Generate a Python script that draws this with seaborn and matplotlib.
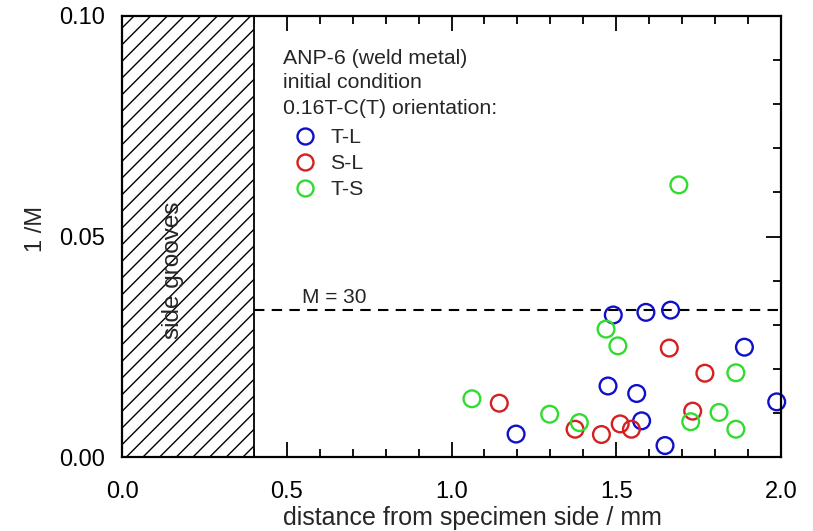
import numpy as np
import pandas as pd
import matplotlib
matplotlib.use("Agg")
import matplotlib.pyplot as plt
import seaborn as sns
from matplotlib.lines import Line2D

# ---- data ----
tl_x = [1.491, 1.590, 1.665, 1.889, 1.475, 1.562, 1.987, 1.577, 1.196, 1.648]
tl_y = [0.0322, 0.0328, 0.0333, 0.0249, 0.0161, 0.0144, 0.0125, 0.0082, 0.0052, 0.0026]
sl_x = [1.661, 1.769, 1.145, 1.732, 1.512, 1.375, 1.546, 1.455]
sl_y = [0.0247, 0.0190, 0.0122, 0.0104, 0.0075, 0.0063, 0.0063, 0.0051]
ts_x = [1.690, 1.469, 1.505, 1.863, 1.062, 1.298, 1.812, 1.388, 1.726, 1.863]
ts_y = [0.0617, 0.0290, 0.0252, 0.0191, 0.0132, 0.0097, 0.0101, 0.0078, 0.0080, 0.0063]
orientations = ["T-L", "S-L", "T-S"]
colors = {"T-L": "#1010c8", "S-L": "#d42020", "T-S": "#30dc30"}
M_limit = 30
groove_depth = 0.4
header = ["ANP-6 (weld metal)", "initial condition", "0.16T-C(T) orientation:"]

df = pd.concat([
    pd.DataFrame({"x": tl_x, "y": tl_y, "orientation": "T-L"}),
    pd.DataFrame({"x": sl_x, "y": sl_y, "orientation": "S-L"}),
    pd.DataFrame({"x": ts_x, "y": ts_y, "orientation": "T-S"}),
], ignore_index=True)

sns.set_theme(style="ticks")
plt.rcParams["font.family"] = ["Liberation Sans", "DejaVu Sans"]
plt.rcParams["hatch.linewidth"] = 1.0

fig = plt.figure(figsize=(8.13, 5.31), dpi=100)
ax = fig.add_axes([122 / 813, 74 / 531, 659 / 813, 441 / 531])

# side groove hatched region
ax.axvspan(0, groove_depth, facecolor="white", edgecolor="black", hatch="//",
           linewidth=1.3, zorder=1)
ax.text(groove_depth * 0.39, 0.0424, "side grooves", rotation=90, ha="center",
        va="center", fontsize=17.5, zorder=3)

# M = 30 line
ax.plot([groove_depth, 2.0], [1 / M_limit, 1 / M_limit], color="black", lw=1.5,
        dashes=(5, 3.5), zorder=2)
ax.text(0.545, 1 / M_limit + 0.0006, f"M = {M_limit}", ha="left", va="bottom",
        fontsize=15)

for o in orientations:
    sub = df[df["orientation"] == o]
    sns.scatterplot(data=sub, x="x", y="y", ax=ax, marker="o", s=145,
                    facecolors="none", edgecolor=colors[o], linewidth=1.7,
                    zorder=4, legend=False, clip_on=False)

# header text
for i, line in enumerate(header):
    ax.text((283 - 122) / 659, (457 - 58 - 25 * i) / 441, line,
            transform=ax.transAxes, ha="left", va="center", fontsize=15.3)

handles = [Line2D([], [], linestyle="none", marker="o", markersize=11.5,
                  markerfacecolor="none", markeredgecolor=colors[o],
                  markeredgewidth=1.7, label=o) for o in orientations]
leg = ax.legend(handles=handles, loc="upper left",
                bbox_to_anchor=((292 - 122) / 659, (457 - 128) / 441),
                frameon=False, fontsize=15.3, handlelength=1.2, handletextpad=0.6,
                labelspacing=0.33, borderpad=0, borderaxespad=0)

ax.set_xlim(0, 2.0)
ax.set_ylim(0, 0.10)
ax.set_xticks([0.0, 0.5, 1.0, 1.5, 2.0])
ax.set_xticklabels(["0.0", "0.5", "1.0", "1.5", "2.0"])
ax.set_yticks([0.0, 0.05, 0.10])
ax.set_yticklabels(["0.00", "0.05", "0.10"])
ax.set_xticks(np.arange(0, 2.0001, 0.1), minor=True)
ax.set_yticks(np.arange(0, 0.10001, 0.01), minor=True)
ax.tick_params(which="both", direction="in", top=True, right=True,
               width=1.3, colors="black", labelsize=17)
ax.tick_params(axis="x", which="both", pad=17)
ax.tick_params(axis="y", which="both", pad=12)
ax.tick_params(which="major", length=10.5)
ax.tick_params(which="minor", length=6)
for sp in ax.spines.values():
    sp.set_linewidth(1.6)
    sp.set_color("black")
    sp.set_zorder(5)

ax.set_xlabel("distance from specimen side / mm", fontsize=18)
ax.xaxis.set_label_coords((472 - 122) / 659, -(506 - 457) / 441)
ax.set_ylabel("1 /M", fontsize=17)
ax.yaxis.set_label_coords(-(122 - 47) / 659, (457 - 229) / 441)

fig.savefig("out.png", dpi=100, facecolor="white")
